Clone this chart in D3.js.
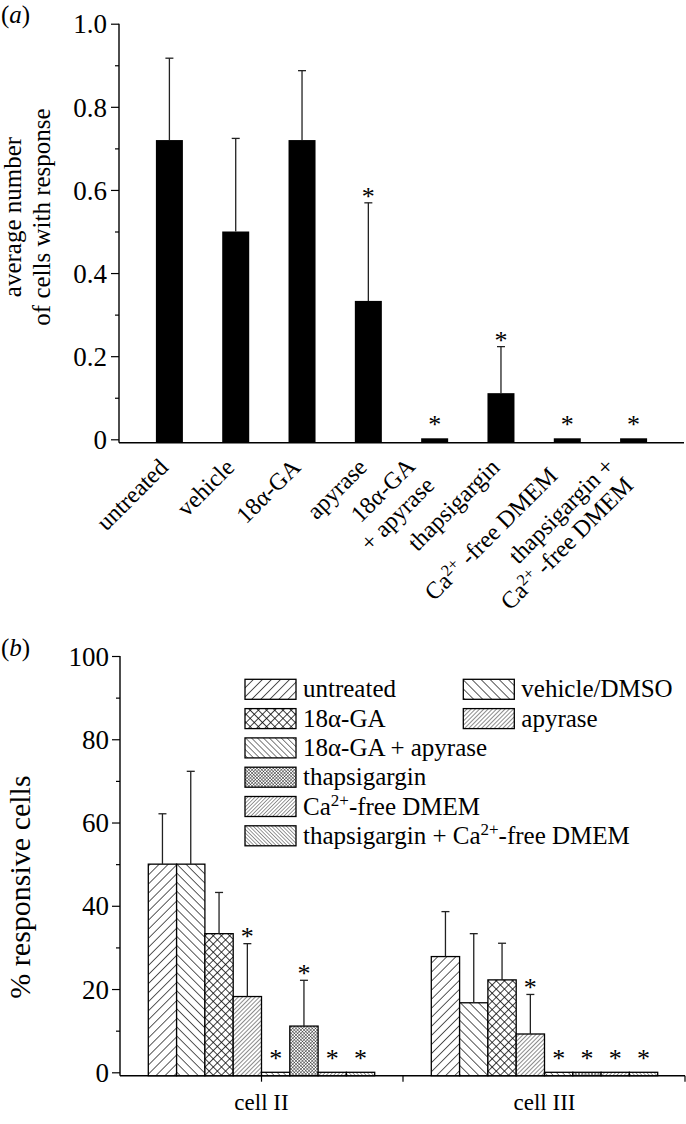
<!DOCTYPE html>
<html>
<head>
<meta charset="utf-8">
<script src="https://cdn.jsdelivr.net/npm/d3@7"></script>
<style>
  body { margin: 0; background: #fff; }
  text { font-family: "Liberation Serif", "Times New Roman", serif; fill: #000; }
</style>
</head>
<body>
<div id="divChart"></div>
<script>
// ---- panel (a) data ----
var labelsA = [["untreated"], ["vehicle"], ["18α-GA"], ["apyrase"], ["18α-GA", "+ apyrase"],
               ["thapsigargin"], ["Ca^2+^ -free DMEM"], ["thapsigargin +", "Ca^2+^ -free DMEM"]];
var valuesA = [0.72, 0.5, 0.72, 0.333, 0, 0.111, 0, 0];
var errorsA = [0.197, 0.224, 0.167, 0.236, 0, 0.112, 0, 0];
var starsA  = [false, false, false, true, true, true, true, true];
var ticksA  = [0, 0.2, 0.4, 0.6, 0.8, 1.0];
var minorA  = [0.1, 0.3, 0.5, 0.7, 0.9];

// ---- panel (b) data ----
var groupsB = ["cell II", "cell III"];
var treatmentsB = ["untreated", "vehicle/DMSO", "18α-GA", "apyrase", "18α-GA + apyrase",
                   "thapsigargin", "Ca^2+^-free DMEM", "thapsigargin + Ca^2+^-free DMEM"];
var valuesCellII  = [50, 50, 33.3, 18.2, 0, 11.1, 0, 0];
var errorsCellII  = [12.1, 22.3, 9.9, 12.7, 0, 11.0, 0, 0];
var starsCellII   = [false, false, false, true, true, true, true, true];
var valuesCellIII = [27.8, 16.7, 22.2, 9.2, 0, 0, 0, 0];
var errorsCellIII = [10.8, 16.6, 8.8, 9.5, 0, 0, 0, 0];
var starsCellIII  = [false, false, false, true, true, true, true, true];
var ticksB = [0, 20, 40, 60, 80, 100];
var minorB = [10, 30, 50, 70, 90];

var serif = "Liberation Serif, Times New Roman, serif";

function init()
{
    var width = 686, height = 1124;
    var svg = d3.select("#divChart").append("svg")
        .attr("width", width)
        .attr("height", height);

    // text with ^superscript^ parts
    function richText(sel, str)
    {
        var parts = str.split("^");
        parts.forEach(function(p, i) {
            if (p === "") return;
            var t = sel.append("tspan").text(p);
            if (i % 2 === 1) {
                t.attr("font-size", "0.68em").attr("dy", "-0.5em");
            } else if (i > 0) {
                t.attr("dy", "0.34em");
            }
        });
    }

    // hatch patterns for panel (b)
    var defs = svg.append("defs");
    var hatch = [
        {angle: 45,  gap: 6.4, w: 1.3, cross: false},
        {angle: -45, gap: 6.4, w: 1.3, cross: false},
        {angle: 45,  gap: 5.8, w: 1.5, cross: true},
        {angle: 45,  gap: 3.0, w: 0.9, cross: false},
        {angle: -45, gap: 4.2, w: 1.0, cross: false},
        {angle: 45,  gap: 2.3, w: 0.8, cross: true},
        {angle: 45,  gap: 2.6, w: 0.8, cross: false},
        {angle: -45, gap: 2.6, w: 0.8, cross: false}
    ];
    hatch.forEach(function(h, i) {
        var p = defs.append("pattern")
            .attr("id", "pat" + i)
            .attr("patternUnits", "userSpaceOnUse")
            .attr("width", h.gap).attr("height", h.gap)
            .attr("patternTransform", "rotate(" + h.angle + ")");
        p.append("rect").attr("width", h.gap).attr("height", h.gap).attr("fill", "#fff");
        p.append("line").attr("x1", 0).attr("y1", 0).attr("x2", 0).attr("y2", h.gap)
            .attr("stroke", "#000").attr("stroke-width", h.w);
        if (h.cross) {
            p.append("line").attr("x1", 0).attr("y1", 0).attr("x2", h.gap).attr("y2", 0)
                .attr("stroke", "#000").attr("stroke-width", h.w);
        }
    });

    // ================= panel (a) =================
    var aLeft = 119, aRight = 684, aAxisY = 442.7;
    var xA = d3.scalePoint().domain(d3.range(labelsA.length)).range([aLeft, aRight]).padding(0.76);
    var yA = d3.scaleLinear().domain([0, 1]).range([439.3, 23.7]);

    svg.append("text").attr("x", 1).attr("y", 23).attr("font-size", 25)
        .html('(<tspan font-style="italic">a</tspan>)');

    var gA = svg.append("g").attr("class", "panel-a");

    var yAxisA = d3.axisLeft(yA).tickValues(ticksA).tickSize(8).tickPadding(4)
        .tickFormat(function(d) { return d === 0 ? "0" : d3.format(".1f")(d); });
    var ya = gA.append("g").attr("transform", "translate(" + aLeft + ",0)").call(yAxisA)
        .attr("font-family", serif).attr("font-size", 27);
    ya.select(".domain").remove();
    ya.selectAll("text").attr("dy", "0.34em");
    var yam = gA.append("g").attr("transform", "translate(" + aLeft + ",0)")
        .call(d3.axisLeft(yA).tickValues(minorA).tickSize(4).tickFormat(""));
    yam.select(".domain").remove();
    gA.selectAll(".tick line").attr("stroke", "#000").attr("stroke-width", 1.2);

    gA.append("line").attr("x1", aLeft).attr("x2", aLeft)
        .attr("y1", yA(1)).attr("y2", aAxisY).attr("stroke", "#000").attr("stroke-width", 1.4);
    gA.append("line").attr("x1", aLeft).attr("x2", aRight)
        .attr("y1", aAxisY).attr("y2", aAxisY).attr("stroke", "#000").attr("stroke-width", 1.4);

    var barWA = 27;
    valuesA.forEach(function(v, i) {
        var cx = xA(i);
        var top = Math.min(yA(v), yA(0) - 1);
        gA.append("rect").attr("x", cx - barWA / 2).attr("y", top)
            .attr("width", barWA).attr("height", aAxisY - top).attr("fill", "#000");
        var starY = top - 17;
        if (errorsA[i] > 0) {
            var ey = yA(v + errorsA[i]);
            gA.append("line").attr("x1", cx).attr("x2", cx).attr("y1", top).attr("y2", ey)
                .attr("stroke", "#222").attr("stroke-width", 1.3);
            gA.append("line").attr("x1", cx - 4).attr("x2", cx + 4).attr("y1", ey).attr("y2", ey)
                .attr("stroke", "#222").attr("stroke-width", 1.3);
            starY = ey - 9.5;
        }
        if (starsA[i]) {
            gA.append("text").attr("x", cx).attr("y", starY + 12).attr("text-anchor", "middle")
                .attr("font-size", 26).text("*");
        }
        // rotated category label; long or stacked labels sit a little back along the slant
        var lines = labelsA[i];
        var longest = d3.max(lines, function(l) { return l.length; });
        var shift = (lines.length > 1 || longest > 14) ? -12 : 0;
        var lab = gA.append("text")
            .attr("transform", "translate(" + cx + "," + (aAxisY + 26) + ") rotate(-45)")
            .attr("text-anchor", "end").attr("font-size", 24);
        lines.forEach(function(l, k) {
            var dy = (k - (lines.length - 1) / 2) * 27;
            var t = lab.append("tspan").attr("x", shift).attr("y", dy);
            richText(t, l);
        });
    });

    var ylabA = svg.append("text")
        .attr("transform", "translate(0,217) rotate(-90)")
        .attr("text-anchor", "middle").attr("font-size", 25);
    ylabA.append("tspan").attr("x", 0).attr("y", 21).text("average number");
    ylabA.append("tspan").attr("x", 0).attr("y", 50).text("of cells with response");

    // ================= panel (b) =================
    var bLeft = 120, bRight = 685, bAxisY = 1075.7;
    var xB = d3.scalePoint().domain(groupsB).range([bLeft, 686]).padding(0.5);
    var xInner = d3.scaleBand().domain(d3.range(treatmentsB.length)).range([-113.2, 113.2]).padding(0);
    var yB = d3.scaleLinear().domain([0, 100]).range([1072.3, 656]);

    svg.append("text").attr("x", 1).attr("y", 656).attr("font-size", 25)
        .html('(<tspan font-style="italic">b</tspan>)');

    var gB = svg.append("g").attr("class", "panel-b");
    var yb = gB.append("g").attr("transform", "translate(" + bLeft + ",0)")
        .call(d3.axisLeft(yB).tickValues(ticksB).tickSize(8).tickPadding(3))
        .attr("font-family", serif).attr("font-size", 27);
    yb.select(".domain").remove();
    yb.selectAll("text").attr("dy", "0.34em");
    var ybm = gB.append("g").attr("transform", "translate(" + bLeft + ",0)")
        .call(d3.axisLeft(yB).tickValues(minorB).tickSize(4).tickFormat(""));
    ybm.select(".domain").remove();
    gB.selectAll(".tick line").attr("stroke", "#000").attr("stroke-width", 1.2);

    gB.append("line").attr("x1", bLeft).attr("x2", bLeft)
        .attr("y1", yB(100)).attr("y2", bAxisY).attr("stroke", "#000").attr("stroke-width", 1.4);
    gB.append("line").attr("x1", bLeft).attr("x2", bRight)
        .attr("y1", bAxisY).attr("y2", bAxisY).attr("stroke", "#000").attr("stroke-width", 1.4);

    // x ticks: group centres, group boundary and right end
    var xTicks = [xB(groupsB[0]), (xB(groupsB[0]) + xB(groupsB[1])) / 2, bRight];
    xTicks.forEach(function(t) {
        gB.append("line").attr("x1", t).attr("x2", t).attr("y1", bAxisY).attr("y2", bAxisY + 6)
            .attr("stroke", "#000").attr("stroke-width", 1.2);
    });
    groupsB.forEach(function(g) {
        gB.append("text").attr("x", xB(g)).attr("y", 1110).attr("text-anchor", "middle")
            .attr("font-size", 23).text(g);
    });

    var groupData = [
        {values: valuesCellII, errors: errorsCellII, stars: starsCellII},
        {values: valuesCellIII, errors: errorsCellIII, stars: starsCellIII}
    ];
    groupData.forEach(function(gd, gi) {
        var gx = xB(groupsB[gi]);
        gd.values.forEach(function(v, i) {
            var x0 = gx + xInner(i), bw = xInner.bandwidth(), cx = x0 + bw / 2;
            var top = Math.min(yB(v), yB(0));
            gB.append("rect").attr("x", x0).attr("y", top)
                .attr("width", bw).attr("height", bAxisY - top)
                .attr("fill", "url(#pat" + i + ")")
                .attr("stroke", "#000").attr("stroke-width", 1.3);
            var starY = top - 17.5;
            if (gd.errors[i] > 0) {
                var ey = yB(v + gd.errors[i]);
                gB.append("line").attr("x1", cx).attr("x2", cx).attr("y1", top).attr("y2", ey)
                    .attr("stroke", "#222").attr("stroke-width", 1.3);
                gB.append("line").attr("x1", cx - 4).attr("x2", cx + 4).attr("y1", ey).attr("y2", ey)
                    .attr("stroke", "#222").attr("stroke-width", 1.3);
                starY = ey - 10.5;
            }
            if (gd.stars[i]) {
                gB.append("text").attr("x", cx).attr("y", starY + 12).attr("text-anchor", "middle")
                    .attr("font-size", 26).text("*");
            }
        });
    });

    // legend
    var leg = gB.append("g").attr("class", "legend");
    treatmentsB.forEach(function(name, i) {
        var col = i < 4 ? i % 2 : 0;
        var row = i < 4 ? Math.floor(i / 2) : i - 2;
        var lx = col === 0 ? 245 : 463.3;
        var ly = 679.3 + row * 29.3;
        leg.append("rect").attr("x", lx).attr("y", ly).attr("width", 51).attr("height", 20)
            .attr("fill", "url(#pat" + i + ")").attr("stroke", "#000").attr("stroke-width", 1.3);
        var t = leg.append("text").attr("x", lx + 58).attr("y", ly + 18).attr("font-size", 25);
        richText(t, name);
    });

    svg.append("text")
        .attr("transform", "translate(0,887) rotate(-90)")
        .attr("text-anchor", "middle").attr("font-size", 30)
        .append("tspan").attr("x", 0).attr("y", 30).text("% responsive cells");
}

window.onload = init;
</script>
</body>
</html>
